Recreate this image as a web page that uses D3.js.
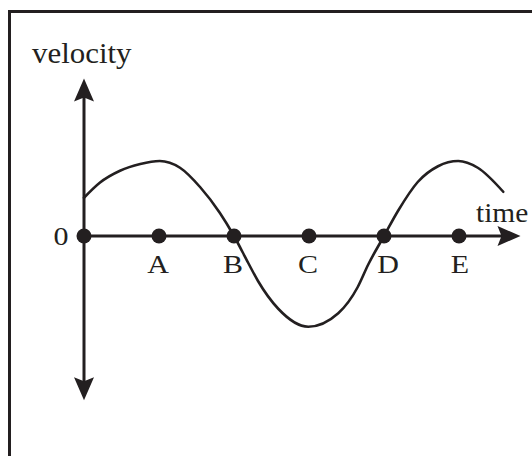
<!DOCTYPE html>
<html><head><meta charset="utf-8">
<script src="https://cdn.jsdelivr.net/npm/d3@7"></script>
<style>html,body{margin:0;padding:0;background:#fff;}svg{display:block;}</style>
</head><body>
<script>
// Data
const pointNames = ["0", "A", "B", "C", "D", "E"];
const pointTimes = [0, 1, 2, 3, 4, 5];
const curveTimes = [0, 0.21, 0.48, 0.75, 1.01, 1.28, 1.55, 1.81, 2.0, 2.19, 2.32, 2.59, 2.99, 3.39, 3.65, 3.79, 4.0, 4.19, 4.45, 4.72, 4.99, 5.25, 5.59];
const curveVelocity = [0.51, 0.71, 0.87, 0.96, 1.0, 0.91, 0.65, 0.31, 0, -0.36, -0.6, -0.97, -1.21, -1.03, -0.68, -0.38, 0, 0.34, 0.72, 0.93, 1.0, 0.91, 0.59];
const axisTimeMax = 5.82;
const axisVelMax = 2.1, axisVelMin = -2.19;

const W = 532, H = 456, ink = "#231f20";
const svg = d3.select("body").append("svg").attr("width", W).attr("height", H);
const x = d3.scaleLinear().domain([0, 5]).range([84, 459]);
const y = d3.scaleLinear().domain([-1, 1]).range([311, 161]);

// frame
svg.append("rect").attr("x", 9.5).attr("y", 11.5).attr("width", 540).attr("height", 470)
  .attr("fill", "none").attr("stroke", ink).attr("stroke-width", 3);

// axes
const ax = x(0), ay = y(0);
svg.append("line").attr("x1", ax).attr("x2", ax).attr("y1", y(axisVelMax) + 15).attr("y2", y(axisVelMin) - 15)
  .attr("stroke", ink).attr("stroke-width", 3);
svg.append("line").attr("x1", ax).attr("x2", x(axisTimeMax) - 15).attr("y1", ay).attr("y2", ay)
  .attr("stroke", ink).attr("stroke-width", 3);

function arrow(tipX, tipY, dir) {
  const L = 23, hw = 10, notch = 4;
  const ux = Math.cos(dir), uy = Math.sin(dir), px = -uy, py = ux;
  const bx = tipX - ux * L, by = tipY - uy * L;
  const nx = tipX - ux * (L - notch), ny = tipY - uy * (L - notch);
  const pts = [[tipX, tipY], [bx + px * hw, by + py * hw], [nx, ny], [bx - px * hw, by - py * hw]];
  svg.append("path").attr("d", "M" + pts.map(p => p.join(",")).join("L") + "Z").attr("fill", ink);
}
arrow(ax, y(axisVelMax), -Math.PI / 2);
arrow(ax, y(axisVelMin), Math.PI / 2);
arrow(x(axisTimeMax), ay, 0);

// curve
const line = d3.line().x((d, i) => x(curveTimes[i])).y(d => y(d)).curve(d3.curveMonotoneX);
svg.append("path").attr("d", line(curveVelocity)).attr("fill", "none").attr("stroke", ink)
  .attr("stroke-width", 2.6).attr("stroke-linecap", "round");

// dots
svg.selectAll("circle.pt").data(pointTimes).enter().append("circle")
  .attr("cx", d => x(d)).attr("cy", ay).attr("r", 7.5).attr("fill", ink);

const font = "'Liberation Serif', 'Times New Roman', serif";
function label(txt, tx, ty, anchor, size, sx) {
  svg.append("text").attr("transform", `translate(${tx},${ty}) scale(${sx},1)`).attr("text-anchor", anchor)
    .attr("font-family", font).attr("font-size", size).attr("fill", ink).text(txt);
}
pointNames.forEach((n, i) => {
  if (i === 0) label(n, x(0) - 23, ay + 9, "middle", 25, 1.2);
  else label(n, x(pointTimes[i]) + (i === 4 ? 4 : (i === 5 ? 1 : -1)), ay + 37, "middle", 25, 1.2);
});
label("velocity", 32, 63, "start", 30, 1.03);
label("time", 476, 222, "start", 28, 1.05);
</script>
</body></html>
